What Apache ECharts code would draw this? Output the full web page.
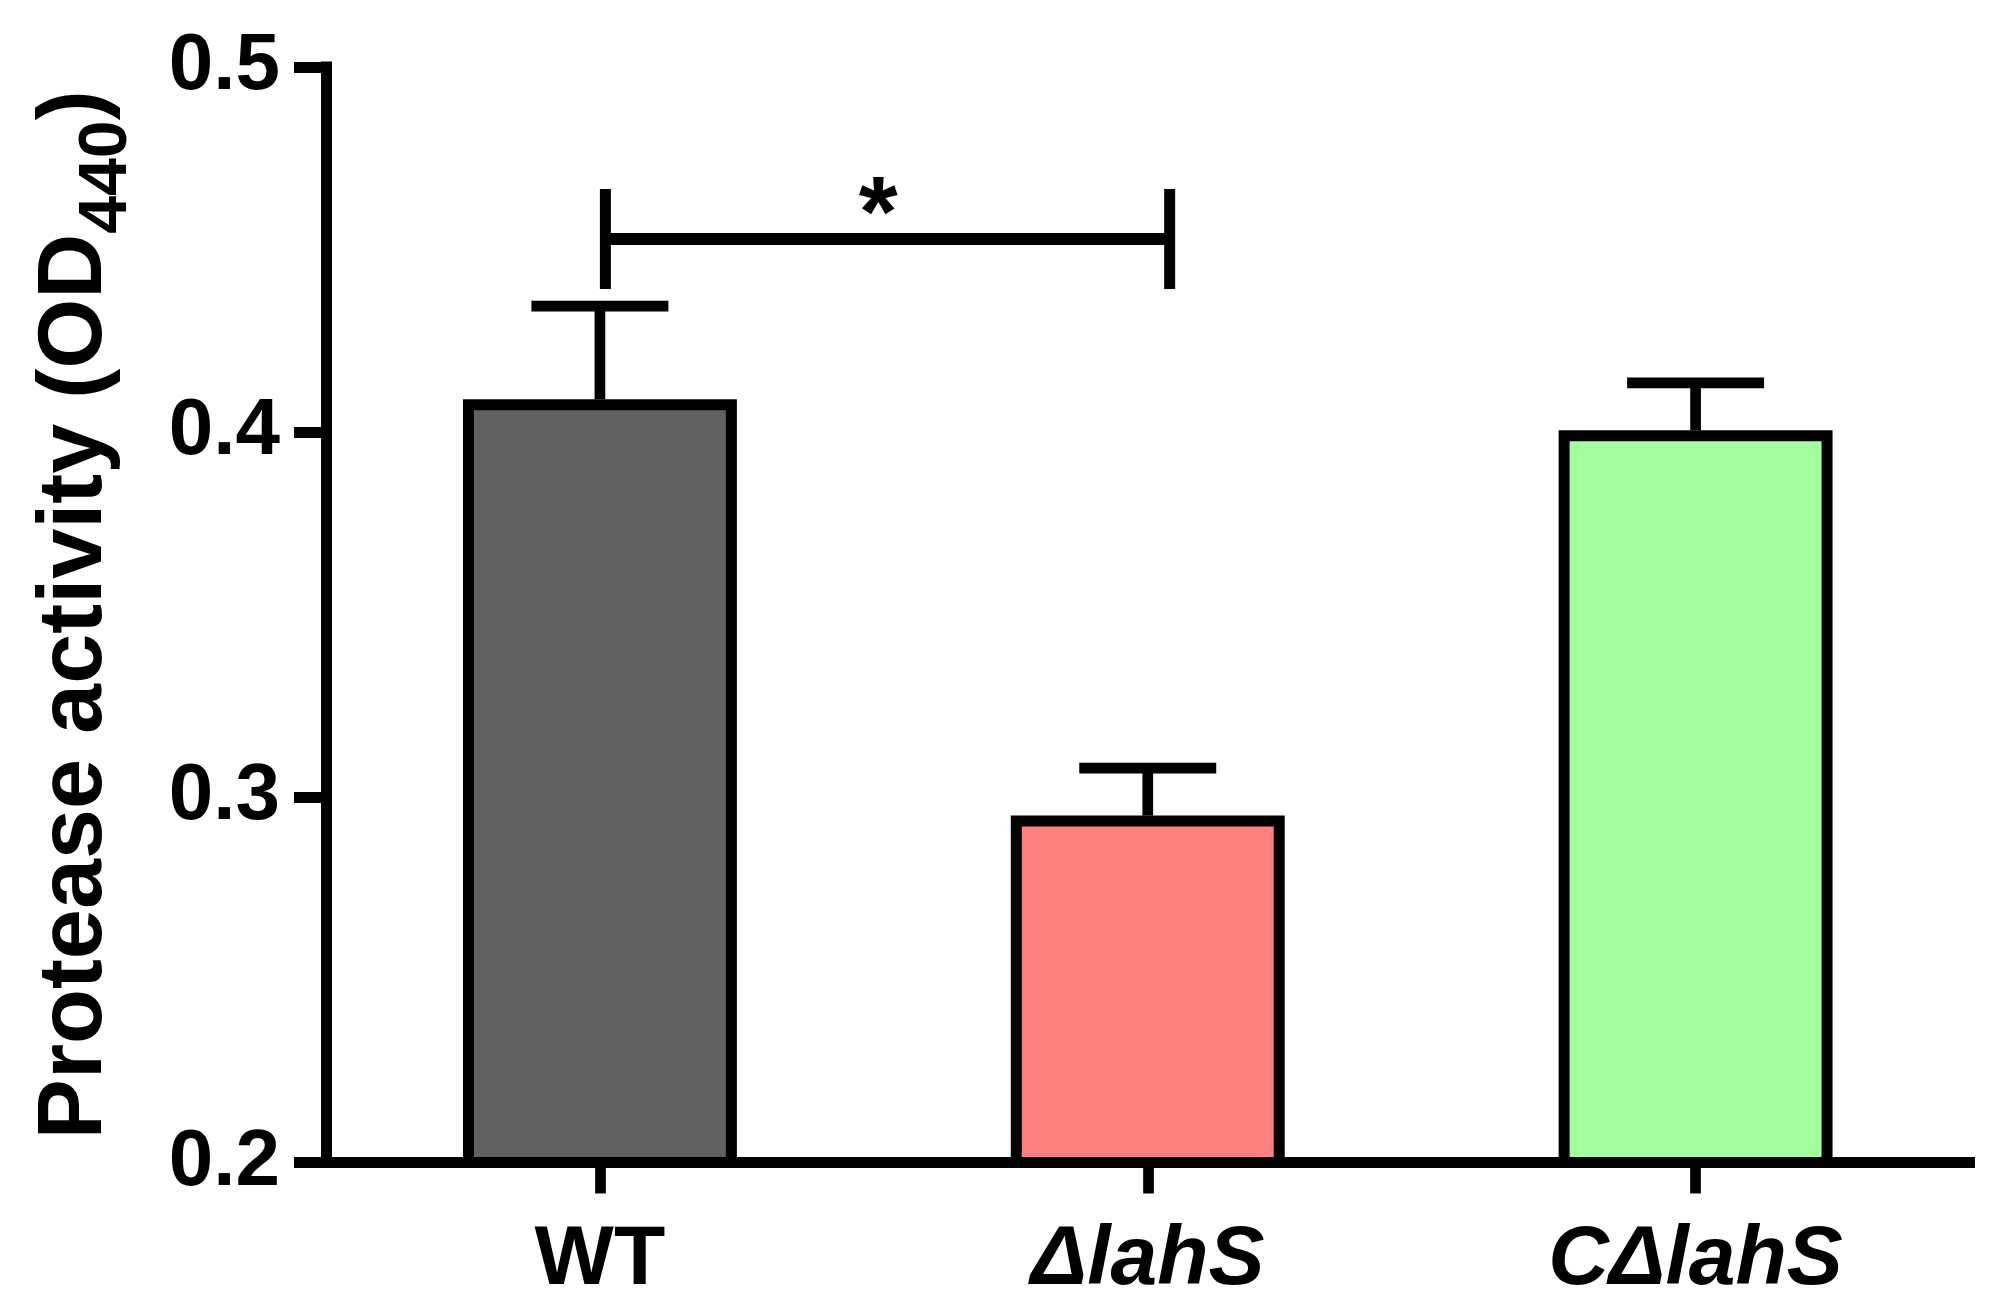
<!DOCTYPE html>
<html>
<head>
<meta charset="utf-8">
<script src="https://cdn.jsdelivr.net/npm/echarts@6/dist/echarts.min.js"></script>
<style>
html,body{margin:0;padding:0;background:#fff;}
#c{width:1999px;height:1308px;}
</style>
</head>
<body>
<div id="c"></div>
<script>
// ---- data ----
var categories = ['WT', 'ΔlahS', 'CΔlahS'];
var italicCats = [false, true, true];
var meanValues = [0.409, 0.295, 0.4005];
var errorTops = [0.4345, 0.308, 0.4135];
var barColors = ['#616161', '#FF8080', '#A3FFA0'];
var yTicks = [0.2, 0.3, 0.4, 0.5];
var bracketX = [0.51, 1.54];      // positions on a 0..3 category scale
var bracketLevel = 0.4529;
var bracketEnds = [0.4666, 0.4392];
var starPos = [1.008, 0.4585];
var starText = '*';

var FONT = "'Liberation Sans', Arial, Helvetica, sans-serif";
var chart = echarts.init(document.getElementById('c'), null, {renderer: 'canvas'});

var option = {
  animation: false,
  backgroundColor: '#ffffff',
  grid: {left: 326, right: 29.5, top: 67, bottom: 145.5, containLabel: false},
  xAxis: [{
    type: 'category',
    data: categories,
    boundaryGap: true,
    axisLine: {show: true, lineStyle: {color: '#000', width: 11, cap: 'square'}},
    axisTick: {show: true, alignWithLabel: true, length: 31, lineStyle: {color: '#000', width: 10.7}},
    axisLabel: {
      interval: 0,
      hideOverlap: false,
      margin: 56,
      fontSize: 84, fontWeight: 'bold', fontFamily: FONT, color: '#000',
      formatter: function (v, i) { return italicCats[i] ? '{it|' + v + '}' : '{n|' + v + '}'; },
      rich: {
        n: {fontSize: 84, fontWeight: 'bold', fontFamily: FONT, color: '#000'},
        it: {fontSize: 84, fontWeight: 'bold', fontStyle: 'italic', fontFamily: FONT, color: '#000'}
      }
    },
    splitLine: {show: false}
  }, {
    type: 'value', min: 0, max: 3, show: false
  }],
  yAxis: [{
    type: 'value',
    min: yTicks[0], max: yTicks[yTicks.length - 1], interval: 0.1,
    axisLine: {show: true, lineStyle: {color: '#000', width: 11, cap: 'square'}},
    axisTick: {show: true, length: 32, lineStyle: {color: '#000', width: 11}},
    splitLine: {show: false},
    axisLabel: {
      margin: 46, fontSize: 80, fontWeight: 'bold', fontFamily: FONT, color: '#000',
      formatter: function (v) { return v.toFixed(1); }
    },
    name: '{m|Protease activity (OD}{s|440}{m|)}',
    nameLocation: 'middle',
    nameRotate: 90,
    nameGap: 205,
    nameTextStyle: {
      fontFamily: FONT, fontWeight: 'bold', color: '#000', fontSize: 90,
      rich: {
        m: {fontFamily: FONT, fontWeight: 'bold', color: '#000', fontSize: 90, lineHeight: 100, verticalAlign: 'bottom'},
        s: {fontFamily: FONT, fontWeight: 'bold', color: '#000', fontSize: 68, lineHeight: 100, verticalAlign: 'bottom', padding: [0, 0, -20, 0]}
      }
    }
  }],
  series: [{
    type: 'bar',
    xAxisIndex: 0, yAxisIndex: 0,
    barWidth: '50%',
    z: 3,
    data: meanValues.map(function (v, i) {
      return {value: v, itemStyle: {color: barColors[i], borderColor: '#000', borderWidth: 11}};
    })
  }, {
    type: 'custom',
    xAxisIndex: 0, yAxisIndex: 0,
    z: 2,
    data: meanValues.map(function (v, i) { return [i, v, errorTops[i]]; }),
    renderItem: function (params, api) {
      var i = api.value(0);
      var base = api.coord([i, api.value(1)]);
      var top = api.coord([i, api.value(2)]);
      var half = api.size([1, 0])[0] * 0.125;
      var st = {stroke: '#000', lineWidth: 10.7, fill: null};
      return {type: 'group', children: [
        {type: 'line', shape: {x1: base[0], y1: base[1], x2: top[0], y2: top[1]}, style: st},
        {type: 'line', shape: {x1: top[0] - half, y1: top[1], x2: top[0] + half, y2: top[1]}, style: st}
      ]};
    }
  }, {
    type: 'custom',
    xAxisIndex: 1, yAxisIndex: 0,
    z: 4,
    data: [[bracketX[0], bracketX[1], bracketLevel, bracketEnds[0], bracketEnds[1]]],
    renderItem: function (params, api) {
      var l = api.coord([api.value(0), api.value(2)]);
      var r = api.coord([api.value(1), api.value(2)]);
      var lt = api.coord([api.value(0), api.value(3)]);
      var lb = api.coord([api.value(0), api.value(4)]);
      var rt = api.coord([api.value(1), api.value(3)]);
      var rb = api.coord([api.value(1), api.value(4)]);
      var st = {stroke: '#000', lineWidth: 11, fill: null};
      return {type: 'group', children: [
        {type: 'line', shape: {x1: l[0], y1: l[1], x2: r[0], y2: r[1]}, style: {stroke: '#000', lineWidth: 12, fill: null}},
        {type: 'line', shape: {x1: lt[0], y1: lt[1], x2: lb[0], y2: lb[1]}, style: st},
        {type: 'line', shape: {x1: rt[0], y1: rt[1], x2: rb[0], y2: rb[1]}, style: st}
      ]};
    }
  }, {
    type: 'custom',
    xAxisIndex: 1, yAxisIndex: 0,
    z: 4,
    data: [[starPos[0], starPos[1]]],
    renderItem: function (params, api) {
      var p = api.coord([api.value(0), api.value(1)]);
      return {type: 'text', x: p[0], y: p[1], style: {
        text: starText, fontSize: 100, fontWeight: 'bold', fontFamily: FONT,
        fill: '#000', align: 'center', verticalAlign: 'middle'
      }};
    }
  }]
};
chart.setOption(option);
</script>
</body>
</html>
